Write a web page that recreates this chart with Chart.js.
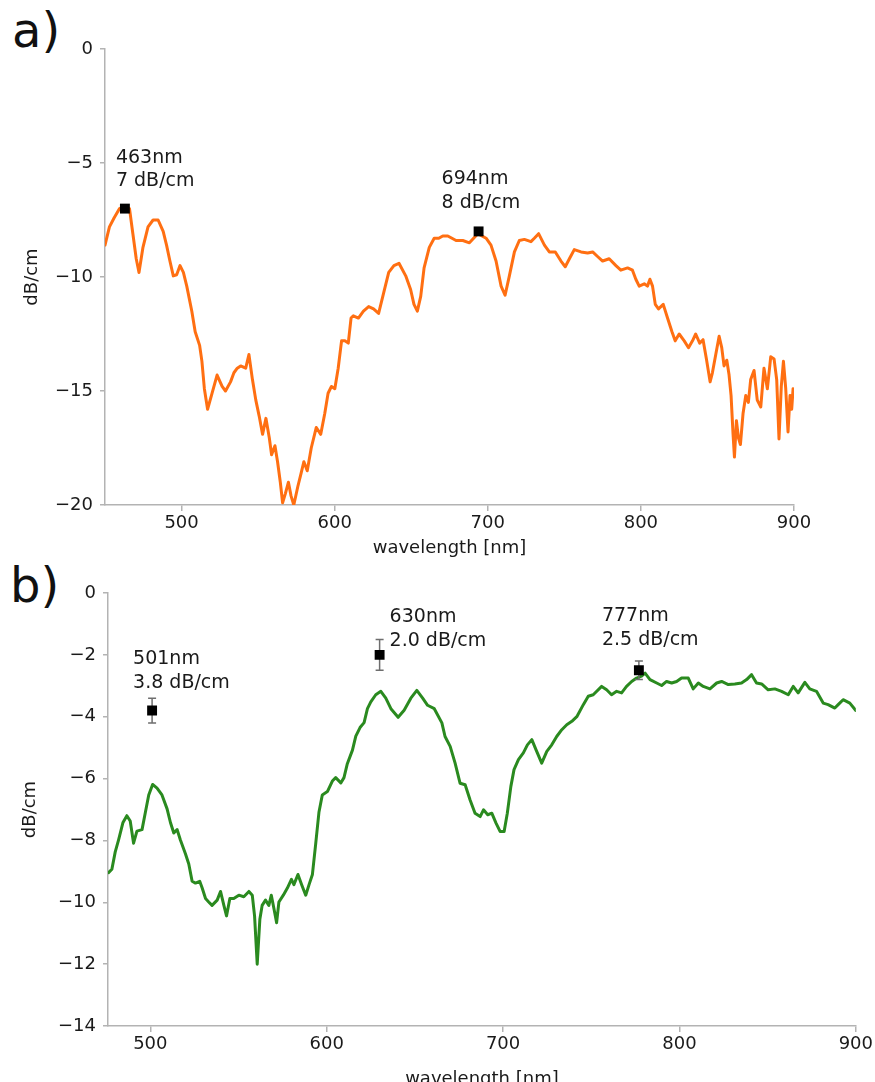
<!DOCTYPE html>
<html>
<head>
<meta charset="utf-8">
<script src="https://cdn.jsdelivr.net/npm/chart.js@4.4.1/dist/chart.umd.min.js"></script>
<style>
  html, body { margin: 0; padding: 0; background: #fff; }
  body { width: 875px; height: 1082px; position: relative; overflow: hidden; font-family: "DejaVu Sans", sans-serif; }
  .panel { position: absolute; left: 0; }
  .tag { position: absolute; font-size: 48px; line-height: 1; color: #111; }
</style>
</head>
<body>
<div class="tag" style="left:12px; top:6px;">a)</div>
<div class="tag" style="left:10px; top:561px;">b)</div>
<canvas id="chartA" class="panel" style="top:0px;" width="875" height="565"></canvas>
<canvas id="chartB" class="panel" style="top:555px;" width="875" height="540"></canvas>
<script>
// Panel a: propagation loss, orange trace
const waveA = [450, 452.9, 456, 459.5, 462.7, 466, 468.2, 470.4, 472.2, 474.8, 478.1, 481.4, 484.7, 488, 490.2,
  492.4, 494.6, 496.8, 499, 501.2, 503.4, 506.7, 508.9, 511.8, 513.3, 514.9, 517, 519.9, 523.2, 526.5, 528.7,
  532, 534.2, 536.4, 538.6, 541.9, 544, 546.3, 548.5, 550.7, 552.9, 555.1, 557.3, 558.8, 561, 562.7, 564.5,
  566, 567.8, 569.8, 571.5, 573.3, 575.9, 578.1, 579.9, 582.1, 584.7, 588, 590.9, 593.5, 595.7, 597.9, 600.1,
  602.3, 604.5, 606.7, 608.9, 610.7, 612.2, 615.5, 618.8, 622.2, 625.4, 628.7, 632, 635.3, 638.7, 642, 646.4,
  649.6, 651.8, 654, 656.2, 658.4, 661.8, 665, 668, 670.6, 673.9, 679.3, 683.7, 688, 693.5, 698.9, 702.1,
  705.4, 708.7, 711.3, 714.1, 717.4, 720.6, 723.9, 728.2, 730.4, 733.2, 737, 740.2, 744.1, 747.8, 750.6,
  753.3, 756.5, 760.9, 765.2, 768.5, 771.7, 775, 779.3, 783.7, 786.9, 791.3, 794.5, 796.7, 798.9, 802.2,
  804.3, 805.9, 807.6, 809.4, 811.5, 814.6, 817.4, 820.3, 822.4, 825, 828.3, 831.1, 833.7, 835.8, 838.4,
  840.6, 842.8, 845.2, 846.7, 848.9, 851.1, 852.8, 854.3, 856.1, 857.6, 858.9, 860.2, 861.1, 862.4, 863.7,
  865, 866.7, 868.5, 870.2, 871.7, 873.9, 876, 878.3, 880.4, 882.6, 884.8, 887, 888.7, 890.2, 891.7, 893.1,
  894.6, 896.1, 897.4, 898.5, 899.4];
const lossA = [-8.6, -7.8, -7.4, -7.0, -6.9, -7.0, -8.1, -9.2, -9.8, -8.7, -7.8, -7.5, -7.5, -8.0, -8.6,
  -9.3, -9.95, -9.9, -9.5, -9.8, -10.4, -11.5, -12.4, -13.0, -13.7, -14.9, -15.8, -15.1, -14.3, -14.8, -15.0,
  -14.6, -14.2, -14.0, -13.9, -14.0, -13.4, -14.5, -15.4, -16.1, -16.9, -16.2, -17.05, -17.8, -17.4, -18.1, -19.0,
  -19.9, -19.5, -19.0, -19.6, -20.0, -19.2, -18.6, -18.1, -18.5, -17.5, -16.6, -16.9, -16.0, -15.1, -14.8, -14.9,
  -14.0, -12.8, -12.8, -12.9, -11.8, -11.7, -11.8, -11.5, -11.3, -11.4, -11.6, -10.7, -9.8, -9.5, -9.4, -9.95,
  -10.55, -11.2, -11.5, -10.85, -9.6, -8.7, -8.3, -8.3, -8.2, -8.2, -8.4, -8.4, -8.5, -8.1, -8.3, -8.6,
  -9.3, -10.4, -10.8, -9.95, -8.9, -8.4, -8.35, -8.45, -8.3, -8.1, -8.6, -8.9, -8.9, -9.3, -9.55,
  -9.2, -8.8, -8.9, -8.95, -8.9, -9.1, -9.3, -9.2, -9.5, -9.7, -9.6, -9.7, -10.1, -10.4, -10.3,
  -10.4, -10.1, -10.4, -11.2, -11.4, -11.2, -11.8, -12.4, -12.8, -12.5, -12.8, -13.1, -12.8, -12.5, -12.9,
  -12.75, -13.6, -14.6, -14.2, -13.4, -12.6, -13.1, -13.9, -13.65, -14.3, -15.2, -16.9, -17.9, -16.3, -17.05,
  -17.35, -16.0, -15.2, -15.5, -14.5, -14.1, -15.4, -15.7, -14.0, -14.9, -13.5, -13.6, -14.5, -17.1, -14.8, -13.7,
  -14.9, -16.8, -15.2, -15.8, -14.9];
const peakWaveA = [463, 694];
const peakLossA = [-7, -8];
const peakTextA = [['463nm', '7 dB/cm'], ['694nm', '8 dB/cm']];
const xTicksA = [500, 600, 700, 800, 900];
const yTicksA = [0, -5, -10, -15, -20];

// Panel b: propagation loss, green trace with measured points
const waveB = [476.3, 478.2, 480.1, 482, 484.5, 486.7, 488.6, 490.5, 492.4, 495.3, 497.2, 499.1, 501.3, 503.8,
  506.6, 509.5, 511.4, 513.3, 515.2, 517, 519.9, 521.8, 523.7, 525.6, 528, 529.4, 531.3, 533.1, 535, 537.9,
  539.8, 541.7, 543.2, 545.1, 547.3, 550.2, 553, 555.9, 557.8, 559.1, 560.6, 562.1, 563.4, 565.3, 567.2,
  568.6, 570.1, 571.6, 572.9, 575.4, 577.7, 580, 581.4, 583.7, 585.8, 588.1, 590, 591.9, 593.8, 595.6, 597.5,
  600.4, 603.2, 605.1, 608, 609.8, 611.7, 614.6, 616.5, 618.9, 621.2, 623.1, 625, 627.8, 630.7, 633.5, 636.4,
  640.5, 643.9, 647.7, 651.1, 654.4, 657.2, 661, 665.3, 667.1, 670, 672.8, 675.6, 678.5, 681.3, 684.1, 687,
  688.9, 691.3, 693.6, 696, 698.3, 700.6, 702.4, 704.4, 706.2, 708.7, 711.5, 713.8, 716.3, 718.7, 721.9,
  724.8, 727.6, 730.4, 733.3, 736.1, 739, 741.8, 745.5, 748.3, 751.1, 755.9, 758.7, 761.5, 764.4, 767.2, 770,
  772.9, 775.7, 778.5, 780.5, 783.3, 787.1, 789.9, 792.7, 795.6, 798.4, 801.2, 805, 807.8, 810.7, 813.5,
  817.3, 821.1, 823.9, 827.7, 831.4, 835.2, 838.1, 840.9, 843.7, 846.6, 850.3, 854.1, 857.9, 861.7, 864.5,
  867.3, 871.1, 873.9, 877.7, 881.5, 884.3, 888.1, 890, 892.8, 896.6, 900];
const lossB = [-9.04, -8.93, -8.37, -7.98, -7.42, -7.2, -7.37, -8.09, -7.7, -7.65, -7.09, -6.53, -6.19, -6.31,
  -6.53, -6.98, -7.42, -7.76, -7.65, -7.98, -8.43, -8.76, -9.32, -9.38, -9.32, -9.54, -9.88, -9.99, -10.1, -9.93,
  -9.65, -10.1, -10.44, -9.88, -9.88, -9.77, -9.82, -9.65, -9.77, -10.44, -12.0, -10.55, -10.1, -9.93, -10.1,
  -9.77, -10.21, -10.66, -9.99, -9.77, -9.54, -9.26, -9.43, -9.1, -9.43, -9.77, -9.43, -9.1, -8.09, -7.09, -6.53,
  -6.42, -6.08, -5.97, -6.14, -5.97, -5.52, -5.08, -4.63, -4.35, -4.19, -3.74, -3.52, -3.29, -3.18, -3.4, -3.74,
  -4.02, -3.79, -3.4, -3.15, -3.4, -3.63, -3.74, -4.2, -4.64, -4.96, -5.5, -6.15, -6.2, -6.69, -7.12, -7.23,
  -7.01, -7.17, -7.12, -7.44, -7.71, -7.71, -7.12, -6.26, -5.71, -5.39, -5.17, -4.91, -4.74, -5.07, -5.5,
  -5.12, -4.91, -4.64, -4.42, -4.26, -4.15, -4.0, -3.61, -3.34, -3.29, -3.02, -3.13, -3.29, -3.18, -3.23, -3.02,
  -2.86, -2.75, -2.69, -2.59, -2.8, -2.91, -2.99, -2.86, -2.91, -2.86, -2.75, -2.75, -3.1, -2.91, -3.02,
  -3.1, -2.91, -2.86, -2.96, -2.94, -2.91, -2.8, -2.64, -2.91, -2.94, -3.13, -3.1, -3.18, -3.29, -3.02,
  -3.23, -2.89, -3.1, -3.18, -3.56, -3.61, -3.72, -3.61, -3.45, -3.56, -3.8];
const peakWaveB = [501, 630, 777];
const peakLossB = [-3.8, -2.0, -2.5];
const peakErrB = [0.4, 0.5, 0.3];
const peakTextB = [['501nm', '3.8 dB/cm'], ['630nm', '2.0 dB/cm'], ['777nm', '2.5 dB/cm']];
const xTicksB = [500, 600, 700, 800, 900];
const yTicksB = [0, -2, -4, -6, -8, -10, -12, -14];

const ORANGE = '#ff6f12';
const GREEN = '#2a8a1f';
const AXIS = '#b3b3b3';
const INK = '#1a1a1a';
const tickFont = { family: "'DejaVu Sans', sans-serif", size: 18 };

function points(xs, ys) {
    return xs.map((x, i) => ({ x: x, y: ys[i] }));
}

function minus(v) {
    return String(v).replace('-', '\u2212');
}

// error bars under the markers, then the two-line notes above them
function peakNotes(waves, losses, errs, texts, offsets) {
    return {
        id: 'peakNotes',
        beforeDatasetDraw(chart, args) {
            if (args.index !== 0 || !errs) return;
            const ctx = chart.ctx;
            const xs = chart.scales.x, ys = chart.scales.y;
            ctx.save();
            ctx.strokeStyle = '#6e6e6e';
            ctx.lineWidth = 1.5;
            waves.forEach((w, i) => {
                const px = xs.getPixelForValue(w);
                const top = ys.getPixelForValue(losses[i] + errs[i]);
                const bot = ys.getPixelForValue(losses[i] - errs[i]);
                ctx.beginPath();
                ctx.moveTo(px, top); ctx.lineTo(px, bot);
                ctx.moveTo(px - 4, top); ctx.lineTo(px + 4, top);
                ctx.moveTo(px - 4, bot); ctx.lineTo(px + 4, bot);
                ctx.stroke();
            });
            ctx.restore();
        },
        afterDatasetsDraw(chart) {
            const ctx = chart.ctx;
            const xs = chart.scales.x, ys = chart.scales.y;
            ctx.save();
            ctx.fillStyle = INK;
            ctx.font = "19px 'DejaVu Sans', sans-serif";
            ctx.textAlign = 'left';
            ctx.textBaseline = 'alphabetic';
            waves.forEach((w, i) => {
                const px = xs.getPixelForValue(w);
                const py = ys.getPixelForValue(losses[i]);
                const o = offsets[i];
                ctx.fillText(texts[i][0], px + o[0], py + o[1]);
                ctx.fillText(texts[i][1], px + o[0], py + o[2]);
            });
            ctx.restore();
        }
    };
}

function makePanel(canvasId, opt) {
    return new Chart(document.getElementById(canvasId), {
        type: 'scatter',
        data: {
            datasets: [{
                data: points(opt.peakWave, opt.peakLoss),
                pointStyle: 'rect',
                pointRadius: 7,
                backgroundColor: '#000',
                borderWidth: 0,
                showLine: false
            }, {
                data: points(opt.wave, opt.loss),
                showLine: true,
                borderColor: opt.color,
                borderWidth: 3,
                borderCapStyle: 'round',
                borderJoinStyle: 'round',
                pointRadius: 0,
                tension: 0
            }]
        },
        options: {
            responsive: false,
            animation: false,
            events: [],
            layout: { padding: opt.padding },
            plugins: {
                legend: { display: false },
                tooltip: { enabled: false }
            },
            scales: {
                x: {
                    type: 'linear',
                    min: opt.xMin,
                    max: 900,
                    afterBuildTicks: s => { s.ticks = opt.xTicks.map(v => ({ value: v })); },
                    afterFit: s => { s.height = opt.xHeight; },
                    grid: { drawOnChartArea: false, drawTicks: true, tickLength: 6, color: AXIS, lineWidth: 1.5 },
                    border: { color: AXIS, width: 1.5 },
                    ticks: { padding: 2, color: INK, font: tickFont, maxRotation: 0 },
                    title: { display: true, text: 'wavelength [nm]', color: INK, font: tickFont,
                             padding: { top: 0, bottom: opt.xTitlePad } }
                },
                y: {
                    min: opt.yMin,
                    max: 0,
                    afterBuildTicks: s => { s.ticks = opt.yTicks.map(v => ({ value: v })); },
                    afterFit: s => { s.width = opt.yWidth; },
                    grid: { drawOnChartArea: false, drawTicks: true, tickLength: 5, color: AXIS, lineWidth: 1.5 },
                    border: { color: AXIS, width: 1.5 },
                    ticks: { padding: 7, color: INK, font: tickFont, callback: v => minus(v) },
                    title: { display: true, text: 'dB/cm', color: INK, font: tickFont,
                             padding: { top: opt.yTitlePad, bottom: 0 } }
                }
            }
        },
        plugins: [peakNotes(opt.peakWave, opt.peakLoss, opt.peakErr, opt.peakText, opt.noteOffsets)]
    });
}

makePanel('chartA', {
    wave: waveA, loss: lossA, color: ORANGE,
    peakWave: peakWaveA, peakLoss: peakLossA, peakErr: null, peakText: peakTextA,
    noteOffsets: [[-9, -46, -23], [-37, -47, -23]],
    xTicks: xTicksA, yTicks: yTicksA, xMin: 450, yMin: -20,
    padding: { left: 0, top: 49, right: 81, bottom: 0 },
    xHeight: 60, yWidth: 105, xTitlePad: 6, yTitlePad: 22
});

makePanel('chartB', {
    wave: waveB, loss: lossB, color: GREEN,
    peakWave: peakWaveB, peakLoss: peakLossB, peakErr: peakErrB, peakText: peakTextB,
    noteOffsets: [[-19, -47, -23], [10, -33, -9], [-37, -49, -25]],
    xTicks: xTicksB, yTicks: yTicksB, xMin: 476, yMin: -14,
    padding: { left: 0, top: 38, right: 17, bottom: 0 },
    xHeight: 69, yWidth: 108, xTitlePad: 5, yTitlePad: 20
});
</script>
</body>
</html>
